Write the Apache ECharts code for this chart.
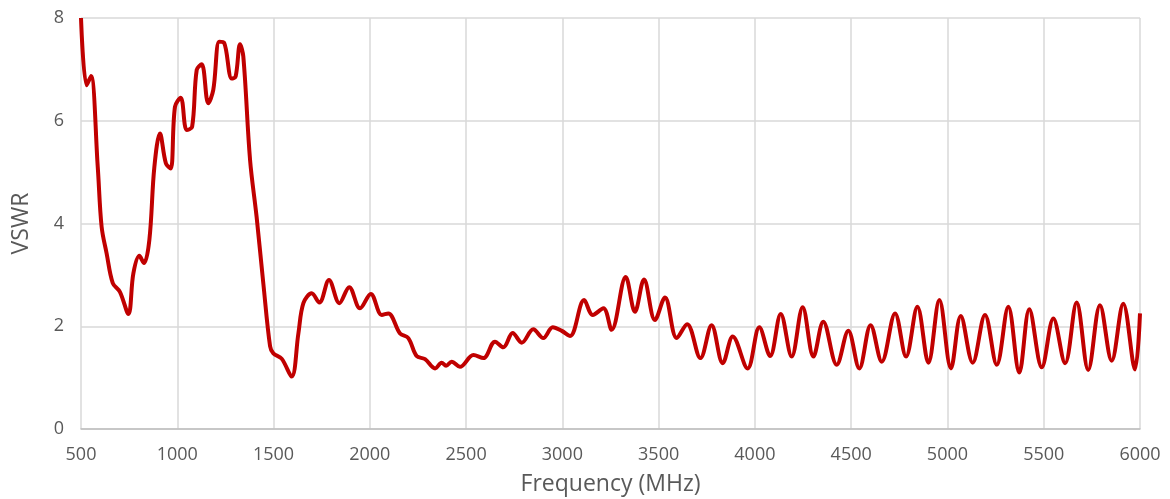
<!DOCTYPE html>
<html>
<head>
<meta charset="utf-8">
<script src="https://cdn.jsdelivr.net/npm/echarts@6/dist/echarts.min.js"></script>
<style>
  html, body { margin: 0; padding: 0; background: #fff; }
  #chart { width: 1170px; height: 499px; }
</style>
</head>
<body>
<div id="chart"></div>
<script>
const freqs = [
  500, 529, 552, 587, 607, 633, 665, 702, 746, 772, 803, 827, 855, 881, 910, 941, 966, 988,
  1018, 1049, 1077, 1101, 1127, 1161, 1187, 1218, 1243, 1283, 1303, 1326, 1343, 1378, 1412,
  1447, 1482, 1499, 1542, 1594, 1629, 1655, 1698, 1738, 1788, 1842, 1893, 1949, 2005, 2062,
  2096, 2157, 2200, 2243, 2287, 2339, 2373, 2396, 2425, 2468, 2538, 2590, 2650, 2693, 2742,
  2789, 2849, 2901, 2950, 2997, 3040, 3113, 3158, 3213, 3256, 3329, 3377, 3424, 3481, 3533,
  3594, 3648, 3717, 3775, 3833, 3885, 3962, 4023, 4079, 4134, 4191, 4248, 4304, 4355, 4425,
  4485, 4542, 4601, 4659, 4728, 4785, 4844, 4901, 4958, 5018, 5069, 5131, 5195, 5256, 5316,
  5373, 5425, 5490, 5550, 5611, 5671, 5731, 5792, 5853, 5913, 5974, 6000
];
const vswr = [
  8.00, 6.69, 6.87, 5.10, 3.94, 3.42, 2.84, 2.67, 2.24, 3.03, 3.37, 3.23, 3.68, 5.10, 5.75, 5.17, 5.07, 6.27,
  6.45, 5.82, 5.88, 6.99, 7.10, 6.34, 6.60, 7.54, 7.52, 6.82, 6.86, 7.49, 7.25, 5.24, 4.13,
  2.83, 1.61, 1.47, 1.37, 1.02, 1.86, 2.45, 2.64, 2.46, 2.90, 2.45, 2.76, 2.35, 2.63, 2.22,
  2.25, 1.86, 1.77, 1.42, 1.36, 1.18, 1.29, 1.23, 1.31, 1.21, 1.44, 1.38, 1.70, 1.59, 1.87,
  1.68, 1.94, 1.77, 1.98, 1.91, 1.81, 2.51, 2.22, 2.35, 1.93, 2.96, 2.28, 2.91, 2.12, 2.56,
  1.77, 2.04, 1.38, 2.02, 1.28, 1.80, 1.18, 1.98, 1.42, 2.24, 1.41, 2.37, 1.41, 2.09, 1.25,
  1.91, 1.18, 2.02, 1.31, 2.25, 1.41, 2.38, 1.29, 2.51, 1.18, 2.20, 1.29, 2.22, 1.25, 2.38,
  1.10, 2.33, 1.20, 2.15, 1.28, 2.46, 1.15, 2.41, 1.33, 2.44, 1.16, 2.25
];

const FONT = '"Open Sans", "Liberation Sans", sans-serif';
const chart = echarts.init(document.getElementById('chart'));

chart.setOption({
  animation: false,
  grid: { left: 81, right: 30, top: 18, bottom: 70, outerBoundsMode: 'none' },
  xAxis: {
    type: 'value',
    min: 500, max: 6000, interval: 500,
    name: 'Frequency (MHz)',
    nameLocation: 'middle',
    nameGap: 44,
    nameTextStyle: { fontSize: 23, color: '#595959', fontFamily: FONT },
    axisLine: { lineStyle: { color: '#bfbfbf', width: 1.5 } },
    axisTick: { show: false },
    axisLabel: {
      fontSize: 18, color: '#595959', fontFamily: FONT, margin: 17,
      formatter: v => String(v)
    },
    splitLine: { lineStyle: { color: '#d9d9d9', width: 1.5 } }
  },
  yAxis: {
    type: 'value',
    min: 0, max: 8, interval: 2,
    name: 'VSWR',
    nameLocation: 'middle',
    nameGap: 48,
    nameTextStyle: { fontSize: 23, color: '#595959', fontFamily: FONT },
    axisLine: { show: false },
    axisTick: { show: false },
    axisLabel: { fontSize: 18, color: '#595959', fontFamily: FONT, margin: 17 },
    splitLine: { lineStyle: { color: '#d9d9d9', width: 1.5 } }
  },
  series: [{
    type: 'line',
    data: freqs.map((f, i) => [f, vswr[i]]),
    smooth: 0.35,
    showSymbol: false,
    clip: false,
    lineStyle: { color: '#c00000', width: 4 }
  }]
});
</script>
</body>
</html>
